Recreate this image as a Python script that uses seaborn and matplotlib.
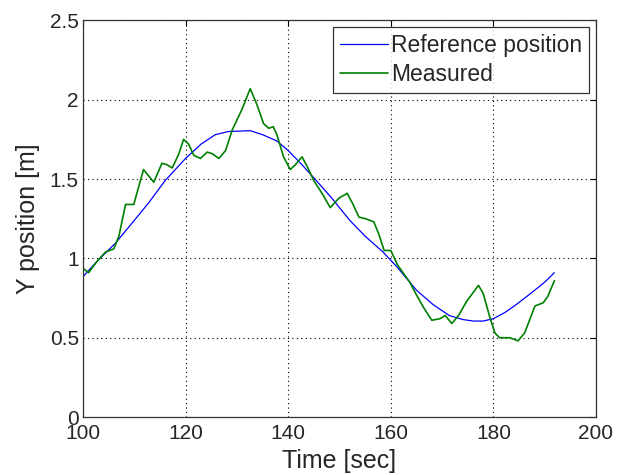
import numpy as np
import pandas as pd
import matplotlib
matplotlib.use("Agg")
import matplotlib.pyplot as plt
import seaborn as sns

# --- data ---
ref_time = [100, 103, 106.3, 109.5, 112.8, 116, 120, 123, 125.8, 128.4, 132.6, 135,
            137.8, 140, 142.7, 145.5, 148.5, 152, 155, 158.5, 161.1, 165, 168.2,
            171.4, 174, 176.1, 178, 180, 182.3, 184.5, 187.7, 190, 191.9]
ref_pos = [0.885, 0.99, 1.095, 1.22, 1.35, 1.49, 1.63, 1.72, 1.78, 1.80, 1.805, 1.78,
           1.74, 1.68, 1.59, 1.49, 1.38, 1.24, 1.14, 1.04, 0.95, 0.80, 0.71,
           0.64, 0.615, 0.605, 0.605, 0.62, 0.66, 0.71, 0.79, 0.85, 0.91]

meas_time = [99.9, 101.1, 102.7, 104.4, 106.0, 107.0, 108.3, 109.9, 110.5, 111.8,
             112.8, 113.8, 115.4, 116.4, 117.4, 118.7, 119.6, 120.6, 121.6, 122.9,
             124.2, 125.2, 126.5, 127.8, 129.1, 131.0, 132.6, 133.9, 135.2, 136.2,
             137.1, 137.8, 139.1, 140.4, 141.4, 142.7, 143.7, 145.0, 146.6, 148.2,
             149.9, 151.5, 152.5, 153.8, 155.1, 156.7, 157.7, 158.7, 160.0, 161.3,
             162.6, 163.7, 165.0, 166.4, 168.0, 169.6, 170.6, 171.9, 173.2, 174.8,
             177.1, 178.0, 179.3, 180.3, 181.2, 183.2, 184.8, 186.1, 188.1, 189.7,
             190.6, 191.9]
meas_pos = [0.94, 0.91, 0.98, 1.04, 1.06, 1.14, 1.34, 1.34, 1.41, 1.56,
            1.52, 1.48, 1.60, 1.59, 1.57, 1.66, 1.75, 1.72, 1.65, 1.63,
            1.67, 1.66, 1.63, 1.68, 1.81, 1.94, 2.07, 1.97, 1.85, 1.82,
            1.83, 1.78, 1.64, 1.56, 1.59, 1.64, 1.58, 1.49, 1.41, 1.32,
            1.38, 1.41, 1.35, 1.26, 1.25, 1.23, 1.15, 1.05, 1.05, 0.96,
            0.90, 0.85, 0.77, 0.69, 0.61, 0.62, 0.64, 0.59, 0.64, 0.73,
            0.83, 0.78, 0.63, 0.53, 0.50, 0.50, 0.48, 0.53, 0.70, 0.72,
            0.76, 0.86]

ref_df = pd.DataFrame({"t": ref_time, "y": ref_pos})
meas_df = pd.DataFrame({"t": meas_time, "y": meas_pos})

sns.set_style("white")
plt.rcParams['font.family'] = ['Liberation Sans', 'DejaVu Sans']

fig = plt.figure(figsize=(6.31, 4.75), dpi=100)
ax = fig.add_axes([0.1315, 0.122, 0.813, 0.835])

sns.lineplot(data=ref_df, x="t", y="y", ax=ax, color=(0, 0, 1), lw=0.9,
             label="Reference position")
sns.lineplot(data=meas_df, x="t", y="y", ax=ax, color=(0, 0.5, 0), lw=1.2,
             label="Measured")

ax.set_xlim(100, 200)
ax.set_ylim(0, 2.5)
ax.set_xticks([100, 120, 140, 160, 180, 200])
ax.set_yticks([0, 0.5, 1, 1.5, 2, 2.5])
ax.set_yticklabels(["0", "0.5", "1", "1.5", "2", "2.5"])
ax.grid(True, linestyle=(0, (1, 3)), color="black", linewidth=0.8)
ax.tick_params(direction="in", top=True, right=True, labelsize=15,
               length=4, width=0.8, color="black")
ax.tick_params(axis="x", pad=5)
ax.tick_params(axis="y", pad=3)
for s in ax.spines.values():
    s.set_color("#333333")
    s.set_linewidth(0.9)

ax.set_xlabel("Time [sec]", fontsize=18, labelpad=4)
ax.set_ylabel("Y position [m]", fontsize=18, labelpad=7)

leg = ax.legend(loc="upper right", fontsize=16.5, frameon=True, fancybox=False,
                edgecolor="black", handlelength=2.1, handletextpad=0.15,
                borderaxespad=0.3, borderpad=0.3, labelspacing=0.25)
leg.get_frame().set_linewidth(0.9)

fig.savefig("out.png", dpi=100)
